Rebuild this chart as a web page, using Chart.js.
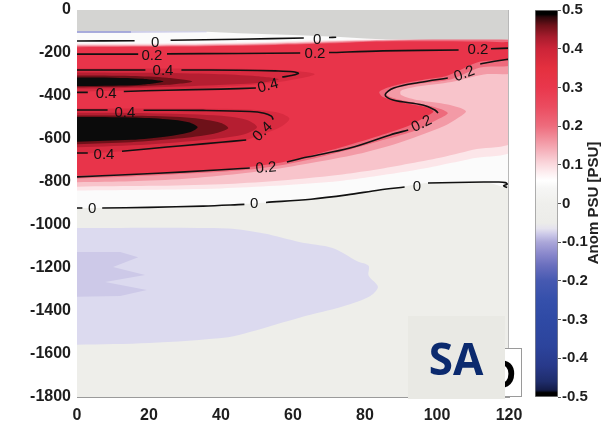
<!DOCTYPE html>
<html><head><meta charset="utf-8">
<script src="https://cdn.jsdelivr.net/npm/chart.js@4/dist/chart.umd.min.js"></script>
<style>
html,body{margin:0;padding:0;background:#fff;}
#wrap{position:relative;width:602px;height:429px;overflow:hidden;}
#main{position:absolute;left:0;top:0;}
#cbar{position:absolute;left:525px;top:0;}
</style></head><body>
<div id="wrap"><canvas id="main" width="602" height="429"></canvas><canvas id="cbar" width="77" height="429"></canvas></div>
<script>
// ---------- axis ticks ----------
const xTicks = [0, 20, 40, 60, 80, 100, 120];
const yTicks = [0, -200, -400, -600, -800, -1000, -1200, -1400, -1600, -1800];
const cbTicks = [0.5, 0.4, 0.3, 0.2, 0.1, 0, -0.1, -0.2, -0.3, -0.4, -0.5];

// ---------- filled regions (distance, depth) ----------
// no-data mask at the top
const maskX = [-2, 122, 122, 86, 80, 72, 60, 45, 36, -2];
const maskY = [20, 20, -137, -137, -132, -124, -116, -108, -101, -99];
// thin negative sliver at top-left
const sliverAX = [-2, 15, 15, -2];
const sliverAY = [-99, -99, -106, -106];
const sliverBX = [15, 36, 36, 15];
const sliverBY = [-99, -100, -104, -106];
// >= 0 (white)
const lvl00X = [-2, 122, 122, 113, 105, 97, 90, 84, 75, 65, 53, 40, 20, -2];
const lvl00Y = [-95, -95, -815, -800, -802, -805, -823, -837, -860, -880, -895, -907, -917, -921];
// >= 0.05
const lvl05X = [-2, 30, 55, 70, 85, 122, 122, 110, 100, 90, 80, 70, 55, 40, 20, -2];
const lvl05Y = [-156, -155, -148, -140, -137, -137, -640, -690, -725, -755, -780, -800, -818, -830, -836, -840];
// >= 0.10
const lvl10X = [-2, 30, 55, 70, 85, 122, 122, 110, 100, 90, 80, 70, 55, 40, 20, -2];
const lvl10Y = [-160, -159, -152, -144, -139, -139, -600, -650, -690, -722, -750, -772, -795, -810, -818, -822];
// >= 0.15
const lvl15X = [-2, 30, 55, 70, 85, 122, 122, 113, 104, 95, 90, 90, 95, 103, 108, 106, 102, 95, 88, 78, 65, 55, 45, 30, 15, -2];
const lvl15Y = [-164, -163, -156, -148, -141, -141, -285, -300, -335, -355, -375, -395, -420, -440, -470, -500, -540, -585, -625, -670, -712, -740, -762, -785, -797, -802];
// >= 0.20
const lvl20X = [-2, 30, 55, 70, 85, 122, 122, 112, 104, 95, 88, 86, 89, 96, 101, 103, 100, 94, 86, 75, 60, 48, 30, 15, -2];
const lvl20Y = [-168, -166, -159, -151, -143, -143, -250, -268, -322, -343, -367, -393, -415, -438, -460, -480, -510, -560, -600, -652, -712, -742, -762, -774, -785];
// >= 0.25 (main red body)
const lvl25X = [-2, 30, 55, 70, 85, 112, 118, 122, 122, 112, 103, 95, 88, 84, 85, 91, 97, 99, 97, 92, 84, 72, 58, 47, 30, 15, -2];
const lvl25Y = [-173, -170, -163, -155, -146, -146, -150, -156, -225, -240, -305, -328, -352, -380, -405, -432, -452, -472, -495, -540, -585, -645, -705, -732, -752, -763, -772];
// >= 0.35 (two tongues)
const lvl35aX = [-2, 30, 50, 60, 66, 62, 54, 40, 20, -2];
const lvl35aY = [-272, -272, -275, -283, -298, -318, -340, -358, -372, -380];
const lvl35bX = [-2, 30, 48, 56, 59, 57, 52, 45, 30, 15, -2];
const lvl35bY = [-458, -458, -463, -478, -505, -540, -575, -612, -635, -655, -672];
// >= 0.42
const lvl42aX = [-2, 20, 38, 50, 56, 50, 38, 20, -2];
const lvl42aY = [-290, -292, -298, -308, -322, -340, -350, -360, -366];
const lvl42bX = [-2, 20, 38, 47, 50, 46, 35, 20, -2];
const lvl42bY = [-478, -480, -490, -510, -545, -580, -605, -625, -640];
// >= 0.46
const lvl46aX = [-2, 15, 25, 32, 25, 15, -2];
const lvl46aY = [-305, -307, -315, -332, -348, -356, -360];
const lvl46bX = [-2, 18, 32, 40, 42, 38, 28, 15, -2];
const lvl46bY = [-490, -492, -502, -525, -550, -575, -598, -615, -625];
// >= 0.5 (black cores)
const lvl50aX = [-2, 10, 18, 24, 18, 10, -2];
const lvl50aY = [-314, -315, -320, -333, -348, -352, -354];
const lvl50bX = [-2, 15, 25, 31, 33.5, 31, 25, 15, -2];
const lvl50bY = [-498, -500, -508, -522, -545, -570, -588, -604, -614];
// negative region (<= -0.05) and its core
const neg05X = [-2, 42, 52, 62, 71, 78, 81, 81, 83.6, 81.5, 74, 62, 48, 42, 20, -2];
const neg05Y = [-1014, -1016, -1040, -1080, -1107, -1170, -1190, -1235, -1288, -1330, -1378, -1430, -1498, -1522, -1549, -1558];
const neg08X = [-2, 12, 17, 10, 18.9, 7.8, 19.4, 12, -2];
const neg08Y = [-1126, -1126, -1150, -1195, -1233, -1265, -1302, -1330, -1335];

// ---------- contour lines (null = gap for a label) ----------
const c0aX = [-1, 16, 20, 26, 45, 63, 66, 70, 72];
const c0aY = [-144, -143, null, -141, -136, -130, null, -128, -127];
const c2aX = [-1, 17, 21, 25, 45, 62, 66, 70, 85, 106, 111, 115, 121];
const c2aY = [-205, -205, null, -204, -202, -200, null, -198, -190, -186, null, -180, -177];
const c2bX = [121, 116, 112, 108, 103, 95, 88, 85.6, 87.8, 96, 99.4, 100.3, 96, 92, 87, 75.8, 64, 58.3, 52, 48, 30, 15, -1];
const c2bY = [-226, -238, -251, null, -316, -337, -363, -395, -419, -442, -465, -479, null, -558, -581, -642, -684, -707, null, -735, -753, -765, -777];
const c4aX = [-1, 19, 24, 29, 45, 55, 60, 61.5, 59.5, 57, 53, 49.7, 40, 25, 13, 8, 3, -1];
const c4aY = [-279, -279, null, -279, -280, -283, -287, -295, -305, -312, null, -363, -368, -373, -379, null, -383, -383];
const c4bX = [-1, 8.5, 13, 18.5, 35, 48, 52, 54, 54.5, 51, 47, 40, 30, 20, 12.5, 7.5, 3, -1];
const c4bY = [-465, -465, null, -466, -467, -472, -480, -494, -510, null, -605, -615, -630, -645, -657, null, -665, -665];
const c0bX = [-1, 1.5, 4, 7, 20, 35, 46.5, 49, 52.5, 65, 75, 84, 91, 94, 97.5, 105, 113, 117, 119, 119.5, 118.5, 119.5];
const c0bY = [-921, -921, null, -921, -918, -912, -904, null, -895, -880, -860, -837, -823, null, -805, -802, -800, -800, -803, -810, -818, -826];

// ---------- contour labels ----------
const lblX = [21.7, 66.7, 20.8, 66.1, 111.4, 23.9, 53, 8.1, 13.3, 51.4, 7.5, 52.5, 95.6, 107.5, 4.2, 49.2, 94.4];
const lblY = [-146, -135, -209, -200, -181, -279, -349, -386, -474, -563, -670, -730, -526, -293, -921, -898, -819];
const lblTxt = ['0', '0', '0.2', '0.2', '0.2', '0.4', '0.4', '0.4', '0.4', '0.4', '0.4', '0.2', '0.2', '0.2', '0', '0', '0'];
const lblRot = [0, 0, 0, 0, 0, 0, -15, 0, 0, -45, 0, -5, -25, -20, 0, 0, 0];

// ---------- colour bar stops ----------
const cbVals = [-0.5, -0.489, -0.482, -0.46, -0.42, -0.37, -0.3, -0.25, -0.2, -0.16, -0.13, -0.1, -0.08, -0.065, -0.05, 0, 0.04, 0.06, 0.08, 0.11, 0.14, 0.17, 0.2, 0.25, 0.3, 0.35, 0.4, 0.43, 0.46, 0.482, 0.489, 0.5];
const cbCols = ['#000000', '#000000', '#141c48', '#1f2d6c', '#28398a', '#2c449c', '#2f4aa5', '#3550ab', '#4659b1', '#6a6fbe', '#8a88cc', '#aba7d9', '#cbc8e8', '#e4e2ee', '#ecece9', '#efefec', '#f6f6f5', '#ffffff', '#fdeef0', '#f9d0d6', '#f5aeb8', '#f18d9a', '#ee6c7d', '#eb4c60', '#e9374c', '#e4303f', '#cc2438', '#a81c2d', '#6e1119', '#2a070b', '#000000', '#000000'];

Chart.defaults.font.family = "'Liberation Sans', Arial, sans-serif";
Chart.defaults.color = '#222';

function pts(xs, ys) { return xs.map((x, i) => ({ x: x, y: ys[i] })); }

const regions = [
  [neg05X, neg05Y, '#dcdaef', 0.3],
  [neg08X, neg08Y, '#cdc9e8', 0],
  [lvl00X, lvl00Y, '#fbfbfb', 0.3],
  [lvl05X, lvl05Y, '#fce6e9', 0.3],
  [lvl10X, lvl10Y, '#f8c4cb', 0.3],
  [lvl15X, lvl15Y, '#f39aa6', 0.3],
  [lvl20X, lvl20Y, '#ee6a7c', 0.3],
  [lvl25X, lvl25Y, '#e8344a', 0.3],
  [lvl35aX, lvl35aY, '#d82b40', 0.3],
  [lvl35bX, lvl35bY, '#d82b40', 0.3],
  [lvl42aX, lvl42aY, '#b51e31', 0.3],
  [lvl42bX, lvl42bY, '#b51e31', 0.3],
  [lvl46aX, lvl46aY, '#6e1119', 0.3],
  [lvl46bX, lvl46bY, '#6e1119', 0.3],
  [lvl50aX, lvl50aY, '#0b0b0b', 0.3],
  [lvl50bX, lvl50bY, '#0b0b0b', 0.3],
  [maskX, maskY, '#d4d4d2', 0],
  [sliverAX, sliverAY, '#8f92d2', 0],
  [sliverBX, sliverBY, '#c6c6e8', 0]
];
const contours = [[c0aX, c0aY], [c2aX, c2aY], [c2bX, c2bY], [c4aX, c4aY], [c4bX, c4bY], [c0bX, c0bY]];

const datasets = [];
regions.forEach(r => datasets.push({
  data: pts(r[0], r[1]), backgroundColor: r[2], borderColor: 'rgba(0,0,0,0)', borderWidth: 0,
  fill: 'shape', tension: r[3], pointRadius: 0
}));
contours.forEach(c => datasets.push({
  data: pts(c[0], c[1]), borderColor: '#111', borderWidth: 1.6, fill: false, tension: 0.35,
  pointRadius: 0, spanGaps: false
}));
datasets.forEach((d, i) => { d.order = datasets.length - i; });

function noPad(s) { s.paddingTop = 0; s.paddingBottom = 0; s.paddingLeft = 0; s.paddingRight = 0; }

const mainPlugin = {
  id: 'mainPlugin',
  beforeDatasetsDraw(chart) {
    const { ctx, chartArea: a } = chart;
    ctx.save();
    ctx.fillStyle = '#eeeeea';
    ctx.fillRect(a.left, a.top, a.right - a.left, a.bottom - a.top);
    ctx.restore();
  },
  afterDatasetsDraw(chart) {
    const { ctx } = chart;
    const xs = chart.scales.x, ys = chart.scales.y;
    ctx.save();
    ctx.fillStyle = '#111';
    ctx.font = "15px 'Liberation Sans', Arial, sans-serif";
    ctx.textAlign = 'center';
    ctx.textBaseline = 'middle';
    lblTxt.forEach((t, i) => {
      ctx.save();
      ctx.translate(xs.getPixelForValue(lblX[i]), ys.getPixelForValue(lblY[i]));
      ctx.rotate(lblRot[i] * Math.PI / 180);
      ctx.fillText(t, 0, 1);
      ctx.restore();
    });
    ctx.restore();
  },
  afterDraw(chart) {
    const { ctx, chartArea: a } = chart;
    ctx.save();
    ctx.strokeStyle = '#b8b8b8';
    ctx.lineWidth = 1;
    ctx.beginPath();
    ctx.moveTo(a.right - 0.5, a.top);
    ctx.lineTo(a.right - 0.5, a.bottom);
    ctx.stroke();
    // partly hidden panel letter box
    ctx.fillStyle = '#ffffff';
    ctx.fillRect(488, 348, 34, 49);
    ctx.strokeStyle = '#9a9a9a';
    ctx.strokeRect(488.5, 348.5, 33, 48);
    ctx.fillStyle = '#000';
    ctx.font = "bold 40px 'Liberation Sans', Arial, sans-serif";
    ctx.textAlign = 'left';
    ctx.textBaseline = 'alphabetic';
    ctx.fillText('D', 487, 388);
    // SA badge
    ctx.fillStyle = '#e9e9e4';
    ctx.fillRect(408, 316, 97, 83);
    ctx.fillStyle = '#0b2a6e';
    ctx.font = "bold 44px 'Open Sans', 'Liberation Sans', sans-serif";
    ctx.textAlign = 'center';
    ctx.fillText('SA', 456, 375);
    ctx.restore();
  }
};

new Chart(document.getElementById('main'), {
  type: 'line',
  data: { datasets: datasets },
  options: {
    responsive: false, animation: false, events: [],
    layout: { padding: { left: 0, right: 93, top: 10, bottom: 0 } },
    plugins: { legend: { display: false }, tooltip: { enabled: false } },
    scales: {
      x: {
        type: 'linear', min: 0, max: 120,
        afterFit: s => { s.height = 32; noPad(s); },
        afterBuildTicks: s => { s.ticks = xTicks.map(v => ({ value: v })); },
        ticks: { font: { size: 16, weight: 'bold' }, color: '#1e1e1e', padding: 9, maxRotation: 0, callback: v => String(v) },
        grid: { display: false, drawTicks: false },
        border: { display: true, color: '#9a9a9a' }
      },
      y: {
        type: 'linear', min: -1800, max: 0,
        afterFit: s => { s.width = 77; noPad(s); },
        afterBuildTicks: s => { s.ticks = yTicks.map(v => ({ value: v })); },
        ticks: { font: { size: 16, weight: 'bold' }, color: '#1e1e1e', padding: 6, callback: v => String(v) },
        grid: { display: false, drawTicks: false },
        border: { display: true, color: '#9a9a9a' }
      }
    }
  },
  plugins: [mainPlugin]
});

// ---------- colour bar ----------
function cbGradient(context) {
  const chart = context.chart;
  const a = chart.chartArea;
  if (!a) return '#888';
  const ys = chart.scales.y;
  const g = chart.ctx.createLinearGradient(0, ys.getPixelForValue(-0.5), 0, ys.getPixelForValue(0.5));
  cbVals.forEach((v, i) => g.addColorStop(Math.min(1, Math.max(0, v + 0.5)), cbCols[i]));
  return g;
}
const cbPlugin = {
  id: 'cbPlugin',
  afterDraw(chart) {
    const ctx = chart.ctx;
    ctx.save();
    ctx.translate(69, 203);
    ctx.rotate(-Math.PI / 2);
    ctx.fillStyle = '#222';
    ctx.font = "bold 15px 'Liberation Sans', Arial, sans-serif";
    ctx.textAlign = 'center';
    ctx.textBaseline = 'middle';
    ctx.fillText('Anom PSU [PSU]', 0, 0);
    ctx.restore();
  }
};
new Chart(document.getElementById('cbar'), {
  type: 'bar',
  data: { labels: ['c'], datasets: [{ data: [[-0.5, 0.5]], backgroundColor: cbGradient, borderColor: '#8a8a8a', borderWidth: 1, borderSkipped: false, barPercentage: 1, categoryPercentage: 1 }] },
  options: {
    responsive: false, animation: false, events: [],
    layout: { padding: { left: 10, right: 0, top: 10, bottom: 32 } },
    plugins: { legend: { display: false }, tooltip: { enabled: false } },
    scales: {
      x: { display: false },
      y: {
        position: 'right', min: -0.5, max: 0.5,
        afterFit: s => { s.width = 44; noPad(s); },
        afterBuildTicks: s => { s.ticks = cbTicks.map(v => ({ value: v })); },
        ticks: { font: { size: 15, weight: 'bold' }, color: '#1e1e1e', padding: 1,
          callback: v => { const r = Math.round(v * 10) / 10; return r === 0 ? '0' : r.toFixed(1); } },
        grid: { drawOnChartArea: false, drawTicks: true, tickLength: 3, color: '#555' },
        border: { display: false }
      }
    }
  },
  plugins: [cbPlugin]
});
</script></body></html>
